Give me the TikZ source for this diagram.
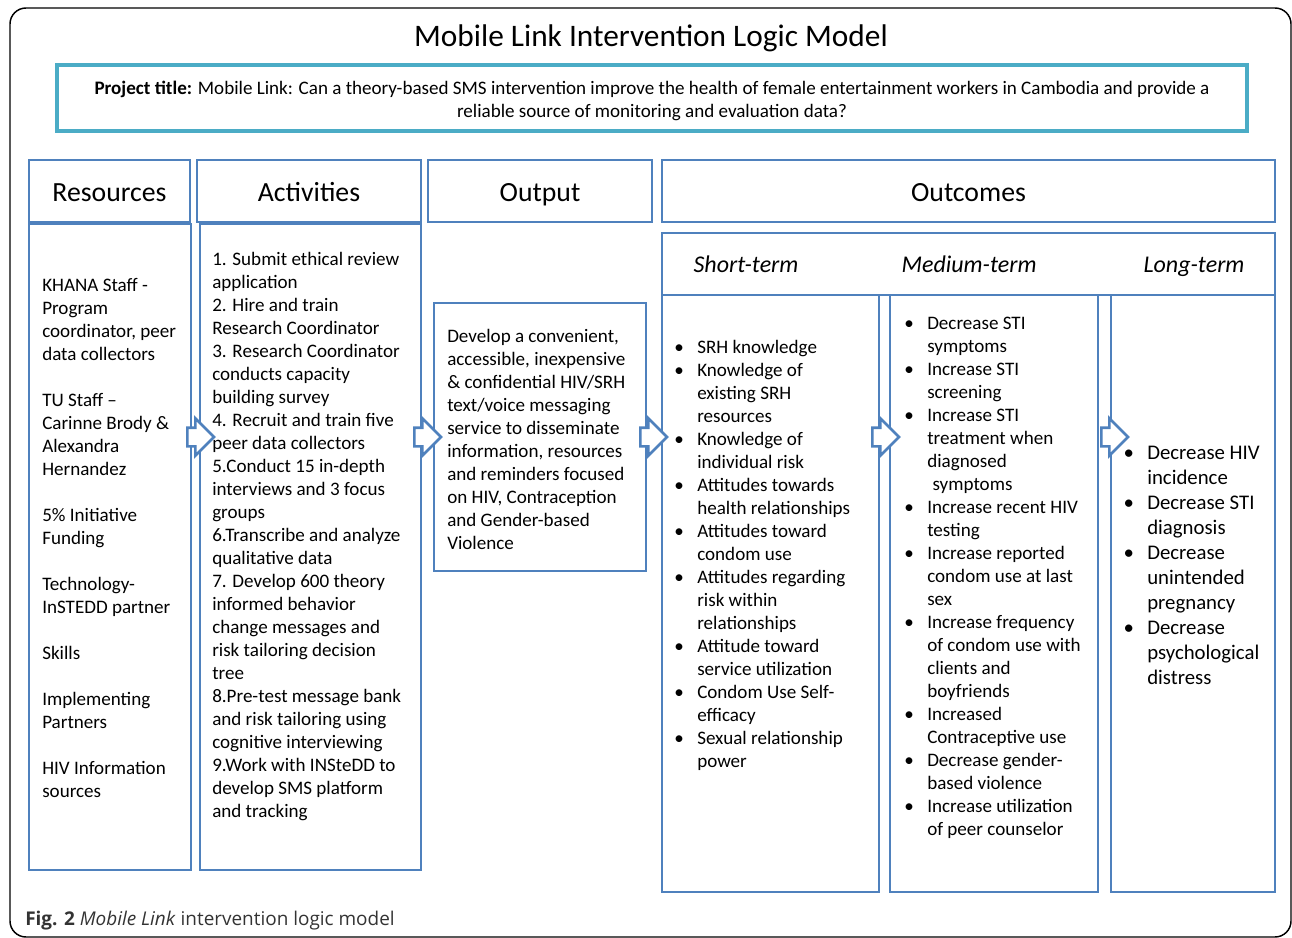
\documentclass[tikz,border=0pt]{standalone}
\usepackage{fontspec}
\setmainfont{Carlito}
\newfontfamily\capfont{Open Sans}
\usetikzlibrary{fit,shapes.arrows}
\definecolor{boxblue}{RGB}{79,129,189}
\definecolor{titlecyan}{RGB}{75,172,198}
\newcommand{\bodyfont}{\fontsize{14.3}{17.25}\selectfont}
\newcommand{\bul}{\llap{\textbullet\hskip 10pt}}

\begin{document}
\begin{tikzpicture}[x=0.75pt,y=-0.75pt]

\tikzset{bluebox/.style={draw=boxblue,line width=2.2pt,inner sep=0pt},
boxtext/.style={anchor=north west,align=left,inner sep=0pt,font=\bodyfont,execute at begin node=\strut},
headtext/.style={anchor=base,font=\fontsize{20.8}{24}\selectfont},
termtext/.style={anchor=base,font=\fontsize{18}{21}\selectfont\itshape},
blockarrow/.style={single arrow,draw=boxblue,fill=white,line width=2pt,inner xsep=0pt,inner ysep=6pt,minimum height=20pt,single arrow head extend=7pt}}

% Frame
\useasboundingbox (0,0) rectangle (1292,938);
\draw[line width=1.1pt,rounded corners=12pt] (10,8) rectangle (1291,937);
\node[anchor=base,font=\fontsize{23.5}{28}\selectfont] (title) at (651,47) {Mobile Link Intervention Logic Model};

% Project title
\node[draw=titlecyan,line width=2.5pt,inner sep=0pt,fit={(57,65) (1247,131)}] (projbox) {};
\node[align=center,font=\bodyfont] (projtext) at ([yshift=-2.25pt]projbox.center) {\textbf{Project title:} Mobile Link: Can a theory-based SMS intervention improve the health of female entertainment workers in Cambodia and provide a\\ reliable source of monitoring and evaluation data?};

% Headers
\node[bluebox,fit={(29,160) (190,222)}] (reshead) {};
\node[bluebox,fit={(197,160) (421,222)}] (acthead) {};
\node[bluebox,fit={(428,160) (652,222)}] (outhead) {};
\node[bluebox,fit={(662,160) (1275,222)}] (outchead) {};
\node[headtext] (reslbl) at ([yshift=-8pt]reshead.center) {Resources};
\node[headtext] (actlbl) at ([yshift=-8pt]acthead.center) {Activities};
\node[headtext] (outlbl) at ([yshift=-8pt]outhead.center) {Output};
\node[headtext] (outclbl) at ([yshift=-8pt]outchead.center) {Outcomes};
\node[bluebox,fit={(662,233) (1275,295)}] (termhead) {};
\node[termtext] (shortlbl) at (746,272) {Short-term};
\node[termtext] (medlbl) at (969,272) {Medium-term};
\node[termtext] (longlbl) at (1194,272) {Long-term};

% Columns
\node[bluebox,fit={(29,224) (191,870)}] (resbody) {};
\node[bluebox,fit={(200,224) (421,870)}] (actbody) {};
\node[bluebox,fit={(434,303) (646,571)}] (outbody) {};
\node[bluebox,fit={(662,295) (879,892)}] (shortbody) {};
\node[bluebox,fit={(890,295) (1098,892)}] (medbody) {};
\node[bluebox,fit={(1111,295) (1275,892)}] (longbody) {};

% Texts
\node[boxtext] (restext) at (42,278) {KHANA Staff -\\ Program\\ coordinator, peer\\ data collectors\\[17.25pt] TU Staff --\\ Carinne Brody \&\\ Alexandra\\ Hernandez\\[17.25pt] 5\% Initiative\\ Funding\\[17.25pt] Technology-\\ InSTEDD partner\\[17.25pt] Skills\\[17.25pt] Implementing\\ Partners\\[17.25pt] HIV Information\\ sources};
\node[boxtext] (acttext) at (212,252) {1. Submit ethical review\\ application\\ 2. Hire and train\\ Research Coordinator\\ 3. Research Coordinator\\ conducts capacity\\ building survey\\ 4. Recruit and train five\\ peer data collectors\\ 5.Conduct 15 in-depth\\ interviews and 3 focus\\ groups\\ 6.Transcribe and analyze\\ qualitative data\\ 7. Develop 600 theory\\ informed behavior\\ change messages and\\ risk tailoring decision\\ tree\\ 8.Pre-test message bank\\ and risk tailoring using\\ cognitive interviewing\\ 9.Work with INSteDD to\\ develop SMS platform\\ and tracking};
\node[boxtext] (outtext) at (447,329) {Develop a convenient,\\ accessible, inexpensive\\ \& confidential HIV/SRH\\ text/voice messaging\\ service to disseminate\\ information, resources\\ and reminders focused\\ on HIV, Contraception\\ and Gender-based\\ Violence};
\node[boxtext] (shorttext) at (697,340) {\bul SRH knowledge\\ \bul Knowledge of\\ existing SRH\\ resources\\ \bul Knowledge of\\ individual risk\\ \bul Attitudes towards\\ health relationships\\ \bul Attitudes toward\\ condom use\\ \bul Attitudes regarding\\ risk within\\ relationships\\ \bul Attitude toward\\ service utilization\\ \bul Condom Use Self-\\ efficacy\\ \bul Sexual relationship\\ power};
\node[boxtext] (medtext) at (927,317) {\bul Decrease STI\\ symptoms\\ \bul Increase STI\\ screening\\ \bul Increase STI\\ treatment when\\ diagnosed\\ \hspace*{4pt}symptoms\\ \bul Increase recent HIV\\ testing\\ \bul Increase reported\\ condom use at last\\ sex\\ \bul Increase frequency\\ of condom use with\\ clients and\\ boyfriends\\ \bul Increased\\ Contraceptive use\\ \bul Decrease gender-\\ based violence\\ \bul Increase utilization\\ of peer counselor};
\node[boxtext,font=\fontsize{15.6}{18.75}\selectfont] (longtext) at (1147,446) {\bul Decrease HIV\\ incidence\\ \bul Decrease STI\\ diagnosis\\ \bul Decrease\\ unintended\\ pregnancy\\ \bul Decrease\\ psychological\\ distress};

% Arrows
\node[blockarrow] (arr1) at (196,437) {};
\node[blockarrow] (arr2) at (423,437) {};
\node[blockarrow] (arr3) at (649,437) {};
\node[blockarrow] (arr4) at (881,437) {};
\node[blockarrow] (arr5) at (1110,437) {};

% Caption
\node[anchor=base west,inner sep=0pt,font=\capfont\fontsize{14.2}{16}\selectfont,text=black!80] (caption) at (25,925) {\textbf{Fig. 2} \textit{Mobile Link} intervention logic model};

\end{tikzpicture}
\end{document}
